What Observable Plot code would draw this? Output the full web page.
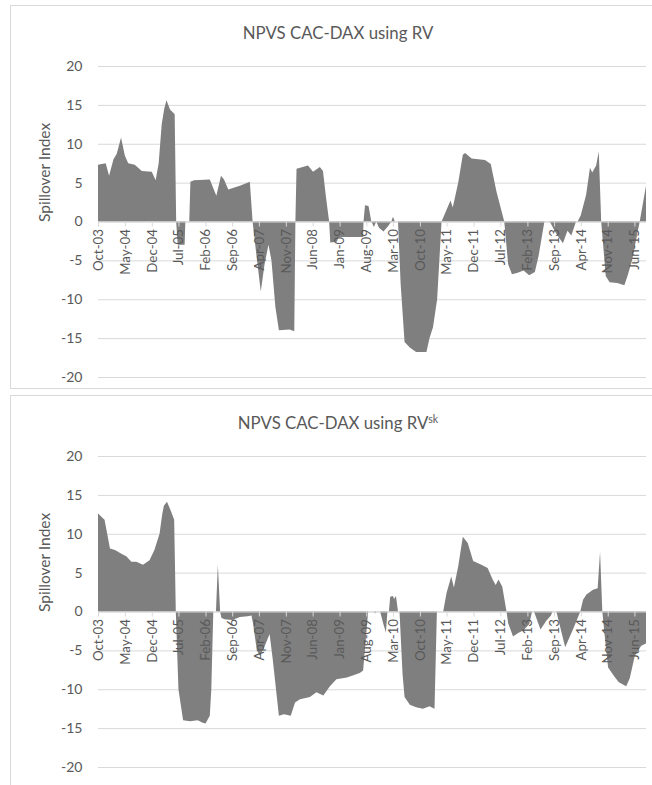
<!DOCTYPE html>
<html><head><meta charset="utf-8">
<script src="https://cdn.jsdelivr.net/npm/d3@7"></script>
<script src="https://cdn.jsdelivr.net/npm/@observablehq/plot@0.6"></script>
<style>
body{margin:0;background:#fff;font-family:Lato, sans-serif;}
#wrap{position:relative;width:652px;height:785px;overflow:hidden;}
.panel{position:absolute;left:10px;width:700px;border:1px solid #d9d9d9;box-sizing:border-box;}
.title{position:absolute;left:0;width:654px;text-align:center;top:16px;font-size:16.8px;color:#595959;white-space:nowrap;}
.title sup{font-size:10.5px;vertical-align:6px;line-height:0;}
.chart{position:absolute;left:0;top:0;}
</style></head>
<body><div id="wrap">
<div class="panel" style="top:5px;height:384px"><div class="title">NPVS CAC-DAX using RV</div><div class="chart" id="c1"></div></div>
<div class="panel" style="top:395px;height:420px"><div class="title">NPVS CAC-DAX using RV<sup>sk</sup></div><div class="chart" id="c2"></div></div>
</div>
<script>
const yLabel = "Spillover Index";
const yTicks = [-20, -15, -10, -5, 0, 5, 10, 15, 20];
const xDomain = ["2003-10-01", "2015-09-01"];
const tickDates = ["2003-10-01","2004-05-01","2004-12-01","2005-07-01","2006-02-01","2006-09-01","2007-04-01","2007-11-01","2008-06-01","2009-01-01","2009-08-01","2010-03-01","2010-10-01","2011-05-01","2011-12-01","2012-07-01","2013-02-01","2013-09-01","2014-04-01","2014-11-01","2015-06-01"];
const tickLabels = ["Oct-03","May-04","Dec-04","Jul-05","Feb-06","Sep-06","Apr-07","Nov-07","Jun-08","Jan-09","Aug-09","Mar-10","Oct-10","May-11","Dec-11","Jul-12","Feb-13","Sep-13","Apr-14","Nov-14","Jun-15"];

// Panel 1: NPVS CAC-DAX using RV
const rvDates = ["2003-10-01","2003-12-01","2003-12-28","2004-02-01","2004-02-27","2004-04-01","2004-05-01","2004-05-28","2004-07-19","2004-09-13","2004-12-01","2005-01-01","2005-01-25","2005-02-18","2005-03-10","2005-03-28","2005-04-25","2005-06-01","2005-06-13","2005-06-25","2005-08-19","2005-08-25","2005-09-25","2005-10-04","2005-11-01","2006-03-07","2006-04-28","2006-06-04","2006-06-28","2006-08-01","2006-11-01","2007-01-19","2007-02-10","2007-03-10","2007-04-16","2007-05-16","2007-06-16","2007-07-10","2007-08-10","2007-09-07","2007-12-01","2008-01-07","2008-01-16","2008-01-25","2008-04-25","2008-06-04","2008-07-28","2008-08-22","2008-09-16","2008-10-10","2008-10-19","2008-12-10","2008-12-25","2009-05-01","2009-07-07","2009-07-10","2009-07-22","2009-08-19","2009-09-10","2009-10-01","2009-10-19","2009-11-10","2009-12-16","2010-01-25","2010-02-16","2010-03-01","2010-03-16","2010-04-10","2010-05-01","2010-06-01","2010-07-13","2010-09-01","2010-11-22","2010-12-16","2011-01-13","2011-02-15","2011-03-22","2011-06-01","2011-06-19","2011-08-01","2011-09-07","2011-09-25","2011-11-16","2012-03-01","2012-04-16","2012-06-01","2012-08-01","2012-09-01","2012-10-01","2012-11-16","2013-01-01","2013-02-15","2013-04-01","2013-05-01","2013-06-16","2013-07-28","2013-09-16","2013-11-10","2013-12-16","2014-01-16","2014-02-22","2014-03-07","2014-04-01","2014-05-13","2014-06-13","2014-07-01","2014-08-01","2014-08-22","2014-09-10","2014-10-16","2014-11-16","2015-01-16","2015-03-13","2015-04-07","2015-05-13","2015-07-13","2015-09-01"];
const rvValues = [7.3,7.5,5.9,8.0,8.7,10.8,8.5,7.5,7.3,6.5,6.4,5.3,7.5,12.5,14.5,15.6,14.4,13.8,0,-3,-3,0,0,5.1,5.3,5.4,3.3,5.9,5.4,4.1,4.6,5.1,0,-4,-9,-5.5,-3.0,-5,-11,-14,-13.9,-14.1,0,6.8,7.2,6.4,7.0,6.5,3.0,0,-2.7,-2.6,-2.0,-2.0,-2.0,0,2.1,2.0,0,-0.7,0,-0.8,-1.3,-0.5,0,0.6,0,0,-8,-15.5,-16.2,-16.8,-16.8,-15,-13.6,-10,0,2.7,1.8,5,8.6,8.8,8.1,7.9,7.4,3.8,0,-5.5,-6.8,-6.6,-6.3,-6.9,-6.5,-4.4,0,0,-1.5,-2.8,-1.2,-1.8,0,0,0.8,3.4,6.9,6.3,7.2,9.0,0,-7.0,-7.8,-7.9,-8.2,-7.0,-5,0,4.6];

// Panel 2: NPVS CAC-DAX using RVsk
const skDates = ["2003-10-01","2003-11-22","2003-12-13","2004-01-04","2004-02-13","2004-04-07","2004-05-13","2004-06-22","2004-08-01","2004-09-22","2004-11-13","2004-12-22","2005-02-01","2005-02-22","2005-03-07","2005-04-01","2005-04-28","2005-05-28","2005-06-10","2005-07-01","2005-08-07","2005-10-01","2005-12-01","2006-01-10","2006-02-01","2006-03-07","2006-03-19","2006-04-04","2006-04-25","2006-05-10","2006-05-28","2006-06-07","2006-07-01","2006-09-01","2006-11-01","2007-01-01","2007-02-01","2007-02-13","2007-03-16","2007-04-10","2007-05-16","2007-06-25","2007-07-19","2007-09-07","2007-10-16","2007-11-16","2007-12-10","2008-01-13","2008-02-22","2008-05-10","2008-07-01","2008-08-25","2008-10-16","2008-12-07","2009-02-28","2009-06-10","2009-07-07","2009-08-16","2009-10-04","2009-10-10","2009-10-16","2009-11-19","2009-12-13","2010-01-04","2010-01-16","2010-01-28","2010-02-07","2010-03-01","2010-03-10","2010-03-25","2010-04-10","2010-04-22","2010-05-16","2010-06-01","2010-07-13","2010-09-01","2010-10-25","2010-12-16","2011-01-25","2011-02-13","2011-04-04","2011-05-01","2011-06-07","2011-06-28","2011-08-01","2011-09-07","2011-10-16","2011-11-28","2012-02-01","2012-03-22","2012-05-01","2012-05-25","2012-06-16","2012-07-16","2012-08-19","2012-09-01","2012-10-10","2012-11-16","2013-01-01","2013-02-16","2013-03-10","2013-03-25","2013-05-16","2013-07-01","2013-08-07","2013-08-19","2013-09-19","2013-11-28","2014-02-01","2014-03-28","2014-04-19","2014-05-16","2014-07-07","2014-08-13","2014-09-01","2014-09-19","2014-10-07","2014-11-04","2014-12-25","2015-01-28","2015-03-28","2015-04-25","2015-06-04","2015-07-25","2015-09-01"];
const skValues = [12.6,11.8,10,8.1,7.9,7.4,7.1,6.4,6.4,6.0,6.6,7.9,10.0,12.5,13.6,14.1,13.1,11.8,0,-10,-14.0,-14.1,-14.0,-14.3,-14.4,-13.4,-10,0,0,6.0,0,-0.8,-1.0,-1.1,-0.7,-0.6,-0.5,-1.5,-5.0,-5.7,-4.5,-2.9,-6,-13.4,-13.2,-13.3,-13.4,-11.7,-11.3,-11.0,-10.4,-10.8,-9.6,-8.7,-8.5,-7.9,-7.6,0,0,-0.3,0,0,-1.5,-2.7,0,0,1.9,2.0,1.6,2.0,0,0,-8,-11,-12.0,-12.3,-12.5,-12.2,-12.5,0,0,2.4,4.5,3.1,5.8,9.6,8.8,6.5,6.0,5.6,4.1,3.4,4.1,3.2,0,-1.5,-3.2,-2.8,-2.4,-1.6,0,0,-2.3,-1.2,-0.5,0,0,-4.6,-2.2,0,1.5,2.2,2.8,3.0,7.7,0,-3,-7.2,-8.4,-9.1,-9.6,-8.6,-5.7,-4.4,-4.1];

const gray = "#595959";
function chart(dates, values) {
  const data = dates.map((d, i) => ({date: new Date(d), value: values[i]}));
  const ticks = tickDates.map(d => new Date(d));
  return Plot.plot({
    width: 641, height: 382,
    marginTop: 60, marginBottom: 11, marginLeft: 87, marginRight: 6,
    style: {fontFamily: "Lato, sans-serif", fontSize: "13px", color: gray, background: "transparent", overflow: "visible"},
    x: {type: "utc", domain: xDomain.map(d => new Date(d)), axis: null},
    y: {domain: [-20, 20]},
    marks: [
      Plot.gridY(yTicks, {stroke: "#d9d9d9", strokeOpacity: 1}),
      Plot.axisY(yTicks, {tickSize: 0, tickPadding: 16, fontSize: 14, tickFormat: d => String(d), label: null, fill: gray}),
      Plot.area(data, {x1: "date", y1: 0, y2: "value", fill: "#7f7f7f"}),
      Plot.ruleY([0], {stroke: "#d9d9d9"}),
      Plot.ruleX(ticks, {x: d => d, y1: 0, y2: 0, insetBottom: -5, stroke: "#d9d9d9"}),
      Plot.text(ticks, {x: d => d, y: 0, text: (d, i) => tickLabels[i], rotate: -90, textAnchor: "end", dy: 7, fill: gray, fontSize: 13.3}),
      Plot.text([yLabel], {frameAnchor: "left", rotate: -90, dx: -53, text: d => d, fontSize: 15.5, fill: gray})
    ]
  });
}
document.getElementById("c1").append(chart(rvDates, rvValues));
document.getElementById("c2").append(chart(skDates, skValues));
</script>
</body></html>
